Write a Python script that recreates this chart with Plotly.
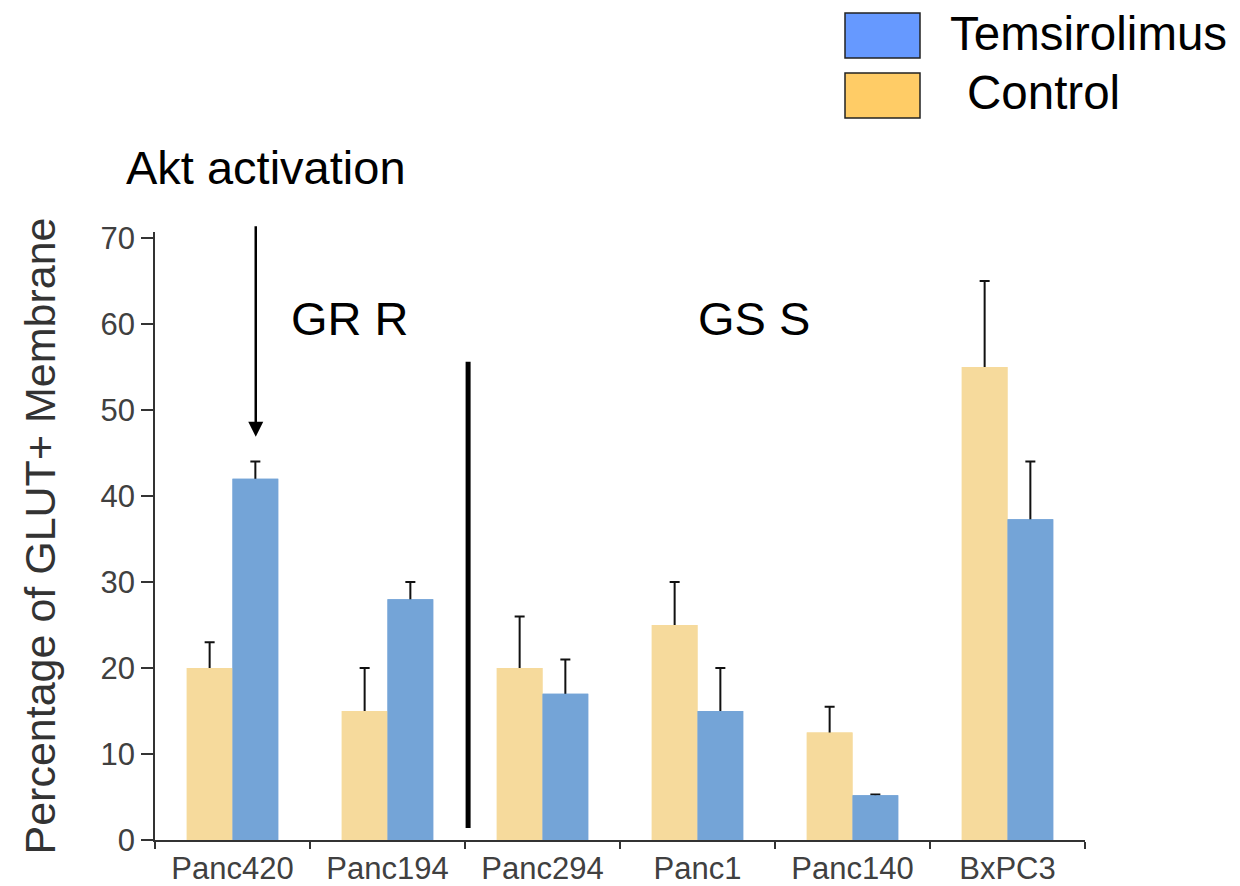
import plotly.graph_objects as go

categories = ["Panc420", "Panc194", "Panc294", "Panc1", "Panc140", "BxPC3"]
control = [20, 15, 20, 25, 12.5, 55]
control_err_top = [23, 20, 26, 30, 15.5, 65]
temsirolimus = [42, 28, 17, 15, 5.2, 37.3]
temsirolimus_err_top = [44, 30, 21, 20, 5.3, 44]
y_ticks = [0, 10, 20, 30, 40, 50, 60, 70]

W, H = 1240, 886
L, R, T, B = 155, 155, 232, 46
PW, PH = W - L - R, H - T - B

CONTROL_COLOR = "#F6DA9C"
TEMS_COLOR = "#74A4D7"


def px(x):
    return (x - L) / PW


def py(y):
    return (H - B - y) / PH


fig = go.Figure()
# bars carrying the error bars (lower part hidden by the cover bars drawn later)
fig.add_trace(go.Bar(
    x=categories, y=control, name="Control", offsetgroup="c",
    marker=dict(color=CONTROL_COLOR, line=dict(width=0)),
    error_y=dict(type="data", symmetric=False,
                 array=[t - v for t, v in zip(control_err_top, control)],
                 arrayminus=[v / 2 for v in control],
                 color="#111111", thickness=2, width=5),
))
fig.add_trace(go.Bar(
    x=categories, y=temsirolimus, name="Temsirolimus", offsetgroup="t",
    marker=dict(color=TEMS_COLOR, line=dict(width=0)),
    error_y=dict(type="data", symmetric=False,
                 array=[t - v for t, v in zip(temsirolimus_err_top, temsirolimus)],
                 arrayminus=[v / 2 for v in temsirolimus],
                 color="#111111", thickness=2, width=5),
))
# cover bars
fig.add_trace(go.Bar(
    x=categories, y=control, name="Control", offsetgroup="c",
    marker=dict(color=CONTROL_COLOR, line=dict(width=0)),
))
fig.add_trace(go.Bar(
    x=categories, y=temsirolimus, name="Temsirolimus", offsetgroup="t",
    marker=dict(color=TEMS_COLOR, line=dict(width=0)),
))

font_axis = "Liberation Sans, Arial, sans-serif"

fig.update_layout(
    width=W, height=H,
    margin=dict(l=L, r=R, t=T, b=B, pad=0, autoexpand=False),
    paper_bgcolor="white", plot_bgcolor="white",
    barmode="group", bargap=0.41, bargroupgap=0,
    showlegend=False,
    font=dict(family=font_axis, color="#404040"),
    xaxis=dict(
        type="category", showgrid=False, showline=True, linecolor="#333333", linewidth=1.5,
        ticks="outside", tickson="boundaries", ticklen=7, tickwidth=1.5, tickcolor="#333333",
        tickfont=dict(size=31, color="#404040"), zeroline=False, ticklabelstandoff=0,
        automargin=False,
    ),
    yaxis=dict(
        range=[0, 70.7], tickvals=y_ticks, showgrid=False, showline=True,
        linecolor="#333333", linewidth=1.5, ticks="outside", ticklen=12, tickwidth=1.5,
        tickcolor="#333333", tickfont=dict(size=31, color="#404040"), zeroline=False,
        automargin=False,
        title=dict(text="Percentage of GLUT+ Membrane", font=dict(size=43, color="#333333"), standoff=32),
    ),
)

# custom legend boxes
fig.add_shape(type="rect", xref="paper", yref="paper",
              x0=px(845), x1=px(920), y0=py(58), y1=py(13),
              fillcolor="#6699FF", line=dict(color="#222222", width=1.5))
fig.add_shape(type="rect", xref="paper", yref="paper",
              x0=px(845), x1=px(920), y0=py(118), y1=py(73),
              fillcolor="#FFCC66", line=dict(color="#222222", width=1.5))
fig.add_annotation(xref="paper", yref="paper", x=px(948), y=py(33), text="Temsirolimus",
                   showarrow=False, xanchor="left", yanchor="middle",
                   font=dict(size=47.5, color="black", family=font_axis))
fig.add_annotation(xref="paper", yref="paper", x=px(965), y=py(93), text="Control",
                   showarrow=False, xanchor="left", yanchor="middle",
                   font=dict(size=47.5, color="black", family=font_axis))

# annotations
fig.add_annotation(xref="paper", yref="paper", x=px(266), y=py(167), text="Akt activation",
                   showarrow=False, xanchor="center", yanchor="middle",
                   font=dict(size=47, color="black", family=font_axis))
fig.add_annotation(xref="x", yref="y", x=0.15, y=46.9, ax=0, ay=-212, text="",
                   showarrow=True, arrowhead=2, arrowsize=1.2, arrowwidth=2.5, arrowcolor="black")
fig.add_annotation(xref="paper", yref="paper", x=px(350), y=py(318), text="GR R",
                   showarrow=False, xanchor="center", yanchor="middle",
                   font=dict(size=47, color="black", family=font_axis))
fig.add_annotation(xref="paper", yref="paper", x=px(754), y=py(318), text="GS S",
                   showarrow=False, xanchor="center", yanchor="middle",
                   font=dict(size=47, color="black", family=font_axis))

# divider line
fig.add_shape(type="line", xref="x", yref="y", x0=1.52, x1=1.52, y0=1.4, y1=55.6,
              line=dict(color="black", width=5))

fig.write_html("out.html")
